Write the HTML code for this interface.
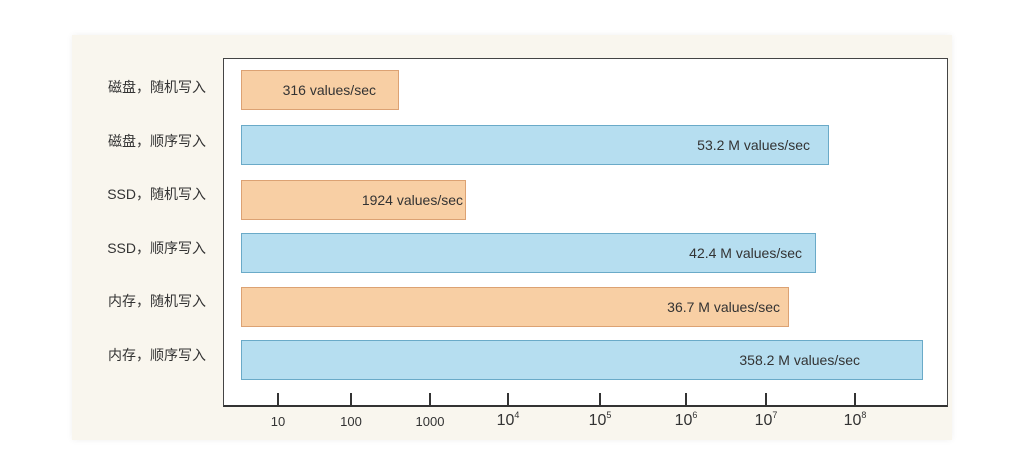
<!DOCTYPE html>
<html><head><meta charset="utf-8"><style>
body{margin:0;width:1024px;height:469px;background:#fff;position:relative;overflow:hidden;font-family:"Liberation Sans","Noto Sans CJK SC",sans-serif}
.card{position:absolute;left:72px;top:35px;width:880px;height:405px;background:#f9f6ee;box-shadow:0 0 6px rgba(0,0,0,0.06)}
.box{position:absolute;left:223px;top:58px;width:725px;height:349px;background:#fff;border:1.5px solid #444;border-bottom:2px solid #333;box-sizing:border-box}
.lab{position:absolute;right:818px;font-size:14px;color:#333;text-align:right;white-space:nowrap}
.bar{position:absolute;left:241px;height:40px;box-sizing:border-box;font-size:14px;color:#333;display:flex;align-items:center;justify-content:flex-end}
.o{background:#f8cfa4;border:1.5px solid #dca273}
.b{background:#b6def0;border:1.5px solid #6aaac8}
.t{position:absolute;top:393px;width:2px;height:14px;background:#333}
.tl{position:absolute;top:414px;font-size:13px;color:#333;transform:translateX(-50%)}
.tl.big{font-size:16px;top:410px}
sup{font-size:9px;vertical-align:7px}
</style></head><body>
<div class="card"></div>
<div class="box"></div>
<div class="lab" style="top:77px">磁盘，随机写入</div>
<div class="lab" style="top:131px">磁盘，顺序写入</div>
<div class="lab" style="top:184px">SSD，随机写入</div>
<div class="lab" style="top:238px">SSD，顺序写入</div>
<div class="lab" style="top:291px">内存，随机写入</div>
<div class="lab" style="top:345px">内存，顺序写入</div>
<div class="bar o" style="top:70px;width:158px;padding-right:22px">316 values/sec</div>
<div class="bar b" style="top:125px;width:588px;padding-right:18px">53.2 M values/sec</div>
<div class="bar o" style="top:180px;width:225px;padding-right:2px">1924 values/sec</div>
<div class="bar b" style="top:233px;width:575px;padding-right:13px">42.4 M values/sec</div>
<div class="bar o" style="top:287px;width:548px;padding-right:8px">36.7 M values/sec</div>
<div class="bar b" style="top:340px;width:682px;padding-right:62px">358.2 M values/sec</div>
<div class="t" style="left:277px"></div><div class="t" style="left:350px"></div><div class="t" style="left:429px"></div><div class="t" style="left:507px"></div><div class="t" style="left:599px"></div><div class="t" style="left:685px"></div><div class="t" style="left:765px"></div><div class="t" style="left:854px"></div>
<div class="tl" style="left:278px">10</div>
<div class="tl" style="left:351px">100</div>
<div class="tl" style="left:430px">1000</div>
<div class="tl big" style="left:508px">10<sup>4</sup></div>
<div class="tl big" style="left:600px">10<sup>5</sup></div>
<div class="tl big" style="left:686px">10<sup>6</sup></div>
<div class="tl big" style="left:766px">10<sup>7</sup></div>
<div class="tl big" style="left:855px">10<sup>8</sup></div>
</body></html>
